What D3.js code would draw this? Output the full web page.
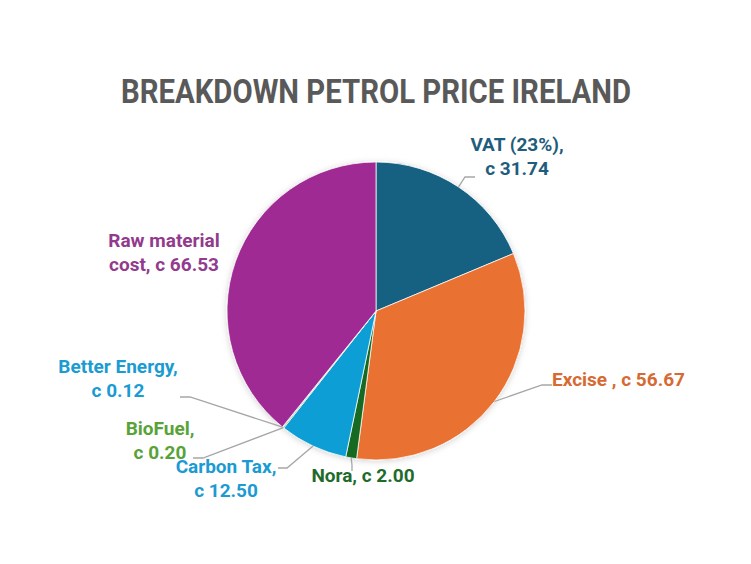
<!DOCTYPE html>
<html>
<head>
<meta charset="utf-8">
<script src="https://cdn.jsdelivr.net/npm/d3@7"></script>
<style>
  html, body { margin: 0; padding: 0; background: #ffffff; }
  svg { display: block; }
</style>
</head>
<body>
<svg id="chart" width="751" height="564"></svg>
<script>
// ---- data ----
const categories = ["VAT (23%)", "Excise ", "Nora", "Carbon Tax", "BioFuel", "Better Energy", "Raw material cost"];
const values = [31.74, 56.67, 2.00, 12.50, 0.20, 0.12, 66.53];
const labelLines = [
  ["VAT (23%),", "c 31.74"],
  ["Excise , c 56.67"],
  ["Nora, c 2.00"],
  ["Carbon Tax,", "c 12.50"],
  ["BioFuel,", "c 0.20"],
  ["Better Energy,", "c 0.12"],
  ["Raw material", "cost, c 66.53"]
];
const title = "BREAKDOWN PETROL PRICE IRELAND";

// ---- styles / layout ----
const sliceColors = ["#156082", "#E97132", "#196B24", "#0F9ED5", "#4EA72E", "#0F9ED5", "#A02B93"];
const textColors  = ["#1f5d7d", "#d66a32", "#1f6b2a", "#1a9bd2", "#57a337", "#1a9bd2", "#923a8d"];
// label anchor (x, first baseline, anchor), elbow & end of leader (null = no leader)
const labelLayout = [
  {x: 517, y: 151, anchor: "middle", elbow: [465, 177], end: [475, 177]},
  {x: 552, y: 386, anchor: "start",  elbow: [542, 385], end: [552, 385]},
  {x: 363, y: 482, anchor: "middle", elbow: [352, 465], end: [352, 471]},
  {x: 226, y: 473, anchor: "middle", elbow: [287, 468], end: [278, 468]},
  {x: 160, y: 435, anchor: "middle", elbow: [203, 458], end: [193, 458]},
  {x: 118, y: 373, anchor: "middle", elbow: [190, 397], end: [180, 397]},
  {x: 164, y: 247, anchor: "middle", elbow: null, end: null}
];
const lineGap = 24;
const cx = 376, cy = 311, r = 149;

const svg = d3.select("#chart");

const defs = svg.append("defs");
const f = defs.append("filter").attr("id", "shadow").attr("x", "-20%").attr("y", "-20%").attr("width", "140%").attr("height", "140%");
f.append("feDropShadow").attr("dx", 0).attr("dy", 1).attr("stdDeviation", 3)
  .attr("flood-color", "#000").attr("flood-opacity", 0.18);

// title
svg.append("text")
  .attr("x", 376).attr("y", 103)
  .attr("text-anchor", "middle")
  .attr("font-family", "Roboto, 'Open Sans', sans-serif")
  .attr("font-weight", "bold")
  .attr("font-size", 33)
  .attr("fill", "#595959")
  .attr("textLength", 510)
  .attr("lengthAdjust", "spacingAndGlyphs")
  .text(title);

const pie = d3.pie().sort(null).value(d => d)(values);
const arc = d3.arc().innerRadius(0).outerRadius(r);

const g = svg.append("g").attr("transform", `translate(${cx},${cy})`);
g.append("g").attr("filter", "url(#shadow)")
  .selectAll("path").data(pie).join("path")
  .attr("d", arc)
  .attr("fill", (d, i) => sliceColors[i])
  .attr("stroke", "#ffffff")
  .attr("stroke-width", 0.75);

// leader lines
pie.forEach((d, i) => {
  const L = labelLayout[i];
  if (!L.elbow) return;
  const mid = (d.startAngle + d.endAngle) / 2;
  const px = cx + r * Math.sin(mid), py = cy - r * Math.cos(mid);
  svg.append("polyline")
    .attr("points", [[px, py], L.elbow, L.end].map(p => p.join(",")).join(" "))
    .attr("fill", "none")
    .attr("stroke", "#a6a6a6")
    .attr("stroke-width", 1.3);
});

// labels
pie.forEach((d, i) => {
  const L = labelLayout[i];
  const t = svg.append("text")
    .attr("text-anchor", L.anchor)
    .attr("font-family", "Roboto, 'Open Sans', sans-serif")
    .attr("font-weight", "bold")
    .attr("font-size", 19)
    .attr("fill", textColors[i]);
  labelLines[i].forEach((line, k) => {
    t.append("tspan").attr("x", L.x).attr("y", L.y + k * lineGap).text(line);
  });
});
</script>
</body>
</html>
